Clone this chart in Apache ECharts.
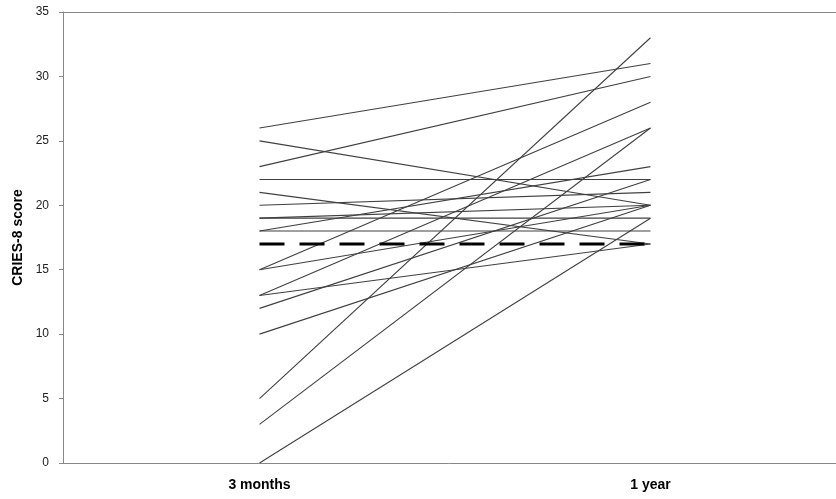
<!DOCTYPE html>
<html>
<head>
<meta charset="utf-8">
<script src="https://cdn.jsdelivr.net/npm/echarts@6/dist/echarts.min.js"></script>
<style>html,body{margin:0;padding:0;background:#fff}#c{width:836px;height:499px}</style>
</head>
<body>
<div id="c"></div>
<script>
const categories = ['3 months', '1 year'];
const threeMonths = [26, 25, 23, 22, 21, 20, 19, 19, 18, 18, 15, 15, 13, 13, 12, 10, 5, 3, 0];
const oneYear     = [31, 20, 30, 22, 17, 21, 19, 20, 18, 23, 28, 20, 26, 17, 22, 20, 33, 26, 19];
const cutoff = [17, 17];
const yTicks = { min: 0, max: 35, interval: 5 };

const chart = echarts.init(document.getElementById('c'));
const series = threeMonths.map((v, i) => ({
  type: 'line', data: [[0, v], [1, oneYear[i]]], symbol: 'none', silent: true,
  lineStyle: { color: '#404040', width: 1.1 }, z: 2
}));
series.push({
  type: 'line', data: [[0, cutoff[0]], [1, cutoff[1]]], symbol: 'none', silent: true,
  lineStyle: { color: '#000', width: 3, type: [25, 15] }, z: 3
});
const xRange = { min: -0.5026, max: 1.4745 };
chart.setOption({
  animation: false,
  grid: { left: 63, top: 12, bottom: 36, right: 0, show: false },
  xAxis: [{
    type: 'value', min: xRange.min, max: xRange.max,
    axisLine: { show: true, onZero: false, lineStyle: { color: '#888', width: 1 } },
    axisTick: { show: false },
    splitLine: { show: false },
    axisLabel: {
      customValues: [0, 1],
      formatter: v => categories[Math.round(v)],
      color: '#000', fontFamily: 'Liberation Sans', fontWeight: 'bold', fontSize: 14, margin: 15
    }
  }, {
    type: 'value', position: 'top', min: xRange.min, max: xRange.max,
    axisLine: { show: true, onZero: false, lineStyle: { color: '#888', width: 1 } },
    axisTick: { show: false }, axisLabel: { show: false }, splitLine: { show: false }
  }],
  yAxis: {
    type: 'value', min: yTicks.min, max: yTicks.max, interval: yTicks.interval,
    name: 'CRIES-8 score', nameLocation: 'middle', nameGap: 34,
    nameTextStyle: { color: '#000', fontFamily: 'Liberation Sans', fontWeight: 'bold', fontSize: 14 },
    axisLine: { show: true, onZero: false, lineStyle: { color: '#888', width: 1 } },
    axisTick: { show: true, length: 4, lineStyle: { color: '#888' } },
    splitLine: { show: false },
    axisLabel: { color: '#222', fontFamily: 'Liberation Sans', fontSize: 12, margin: 14 }
  },
  series: series
});
</script>
</body>
</html>
